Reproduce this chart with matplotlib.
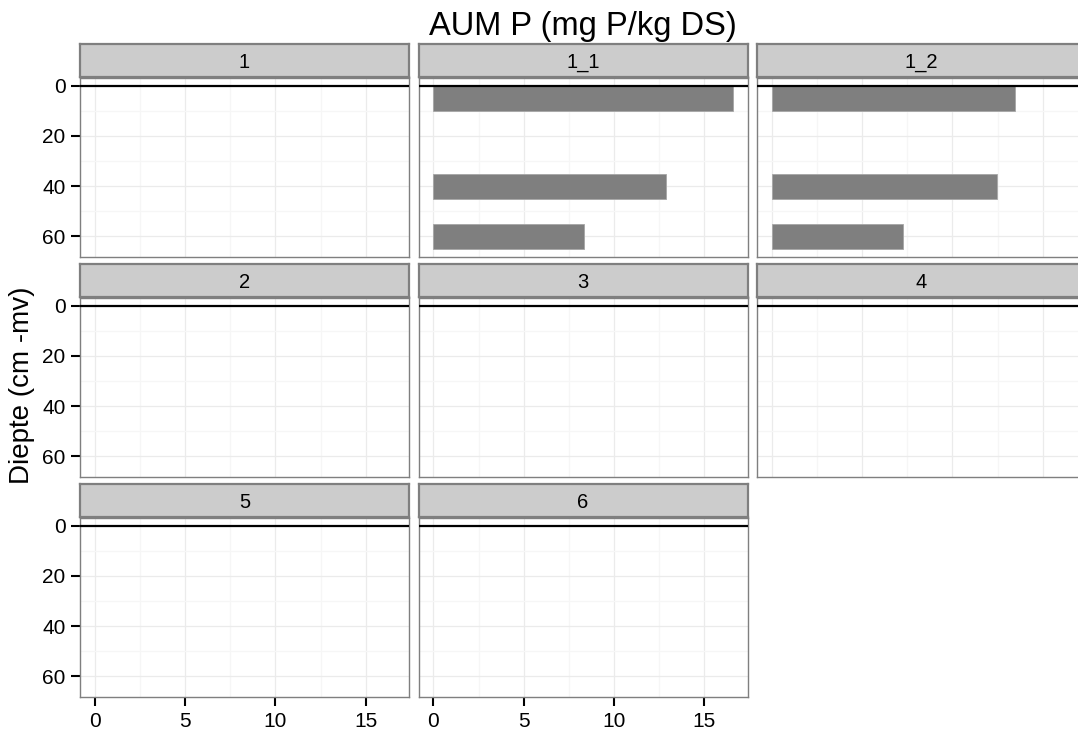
import matplotlib
matplotlib.use("Agg")
import matplotlib.pyplot as plt
import numpy as np

plt.rcParams['font.family'] = ['Liberation Sans', 'DejaVu Sans']

# ---- data ----
facets = ['1', '1_1', '1_2', '2', '3', '4', '5', '6']
depth_top = [0, 35, 55]
depth_bottom = [10, 45, 65]
values = {
    '1_1': [16.57, 12.87, 8.33],
    '1_2': [13.49, 12.48, 7.28],
}
x_ticks = [0, 5, 10, 15]
y_ticks = [0, 20, 40, 60]
title = 'AUM P (mg P/kg DS)'
ylabel = 'Diepte (cm -mv)'

W, H = 1078, 733
fig = plt.figure(figsize=(W / 100, H / 100), dpi=100)

xmax = max(max(v) for v in values.values())
xmin = 0
xr = xmax - xmin
xlim = (xmin - 0.05 * xr, xmax + 0.05 * xr)
ymin, ymax = 0, max(depth_bottom)
yr = ymax - ymin
ylim = (ymax + 0.05 * yr, ymin - 0.05 * yr)

col_left = [80, 418.5, 757]
pw = 329
row_top = [77.5, 297.5, 517.5]
ph = 179.5
strip_h = 33
strip_gap = 0.5
ncol = 3

for i, f in enumerate(facets):
    r, c = divmod(i, ncol)
    left = col_left[c]
    top = row_top[r]
    ax = fig.add_axes([left / W, 1 - (top + ph) / H, pw / W, ph / H])
    ax.set_xlim(*xlim)
    ax.set_ylim(*ylim)
    ax.set_xticks(x_ticks)
    ax.set_yticks(y_ticks)
    ax.set_xticks([2.5, 7.5, 12.5], minor=True)
    ax.set_yticks([10, 30, 50], minor=True)
    ax.grid(True, which='major', color='#ebebeb', lw=0.9)
    ax.grid(True, which='minor', color='#f6f6f6', lw=0.9)
    ax.set_axisbelow(True)
    for s in ax.spines.values():
        s.set_color('#7f7f7f')
        s.set_linewidth(1.0)
    if f in values:
        widths = values[f]
        heights = [b - t for t, b in zip(depth_top, depth_bottom)]
        ax.barh(depth_top, widths, height=heights, left=0, align='edge',
                color='#7f7f7f', edgecolor='#a6a6a6', linewidth=0.6, zorder=2)
    ax.axhline(0, color='black', lw=1.6, zorder=3)
    ax.tick_params(which='minor', length=0)
    ax.tick_params(which='major', length=6.5, width=1.5, color='black',
                   labelsize=15, labelcolor='black', pad=4)
    if c != 0:
        ax.tick_params(axis='y', which='major', left=False, labelleft=False)
    if r != 2:
        ax.tick_params(axis='x', which='major', bottom=False, labelbottom=False)
    # strip
    sax = fig.add_axes([left / W, 1 - (top - strip_gap) / H, pw / W, strip_h / H])
    sax.set_xticks([])
    sax.set_yticks([])
    sax.set_facecolor('#cccccc')
    for s in sax.spines.values():
        s.set_color('#7f7f7f')
        s.set_linewidth(1.6)
    sax.text(0.5, 0.45, f, ha='center', va='center', fontsize=14.5,
             transform=sax.transAxes)

fig.text(583 / W, 1 - 27 / H, title, ha='center', va='center', fontsize=23.5)
fig.text(22 / W, 1 - 385 / H, ylabel, ha='center', va='center',
         fontsize=20, rotation=90)

fig.savefig('out.png', dpi=100)
